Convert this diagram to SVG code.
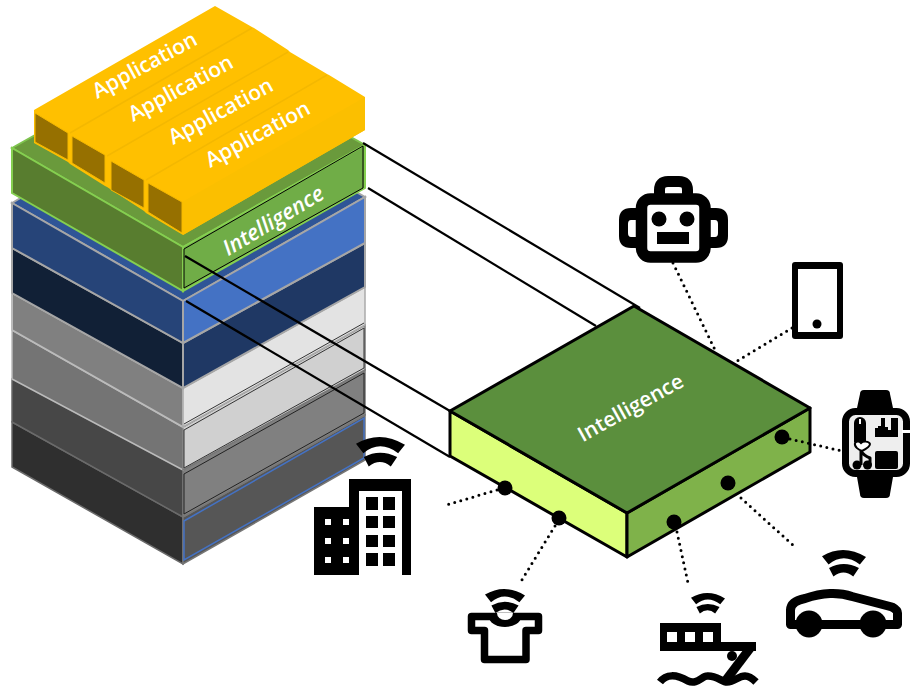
<svg xmlns="http://www.w3.org/2000/svg" xmlns:xlink="http://www.w3.org/1999/xlink" width="910" height="686" viewBox="0 0 910 686">
<style>
.app{font-family:"Open Sans","Liberation Sans",sans-serif;font-size:21.200px;font-weight:600;fill:#fff;text-anchor:middle}
.intel{font-family:"Open Sans","Liberation Sans",sans-serif;font-weight:600;fill:#fff;text-anchor:middle}
.line{fill:none;stroke:#000;stroke-width:2.200}
.dot{fill:none;stroke:#000;stroke-width:3;stroke-linecap:round;stroke-dasharray:0 6.300}
.k{fill:#000}.w{fill:#fff}
.y{fill:#ffc000}.ys{fill:#fbbf00}.yf{fill:#967000;stroke:#f5b800;stroke-width:1}
.seam{fill:none;stroke:#f4b800;stroke-width:1.500}
.ico{fill:none;stroke:#000;stroke-linejoin:round}
</style>
<defs>
<g id="wifi"><path d="M0,14Q49,-15 100,16L86,33Q49,5 15,33Z"/><path d="M16,41Q49,23 84,41L71,60Q49,42 26,60Z"/></g>
</defs>
<g id="stack-layers">
<g id="layer-6"><polygon points="12,422 183,517 183,564 12,467" fill="#2f2f2f" stroke="#6a6a6a" stroke-width="1.500"/><polygon points="183,517 365,415 365,460 183,564" fill="#565656" stroke="#777" stroke-width="1.500"/><polygon points="184,521 364,418 364,458 184,560" fill="none" stroke="#4472c4" stroke-width="1.500"/></g>
<g id="layer-5"><polygon points="12,379 183,470 183,517 12,422" fill="#474747" stroke="#6a6a6a" stroke-width="1.500"/><polygon points="183,470 365,370 365,415 183,517" fill="#808080" stroke="#777" stroke-width="1.500"/><polygon points="184,474 364,373 364,413 184,514" fill="none" stroke="#222" stroke-width="1"/></g>
<g id="layer-4"><polygon points="12,330 183,427 183,470 12,379" fill="#747474" stroke="#bbb" stroke-width="1.500"/><polygon points="183,427 365,325 365,370 183,470" fill="#d0d0d0" stroke="#777" stroke-width="1.500"/><polygon points="184,430 364,328 364,368 184,468" fill="none" stroke="#333" stroke-width="1"/></g>
<g id="layer-3"><polygon points="12,293 183,388 183,427 12,330" fill="#808080" stroke="#bbb" stroke-width="2"/><polygon points="183,388 365,287 365,325 183,427" fill="#e3e3e3" stroke="#aaa" stroke-width="1.500"/><path d="M184,424L364,323" fill="none" stroke="#333" stroke-width="1"/></g>
<g id="layer-2"><polygon points="12,248 183,343 183,388 12,293" fill="#112036" stroke="#a6a6a6" stroke-width="2"/><polygon points="183,343 365,243 365,287 183,388" fill="#1f3864" stroke="#a6a6a6" stroke-width="2"/></g>
<g id="layer-1"><polygon points="12,203 190,98 365,197 183,301" fill="#2f5597" stroke="#a6a6a6" stroke-width="2"/><polygon points="12,203 183,301 183,343 12,248" fill="#264478" stroke="#a6a6a6" stroke-width="2"/><polygon points="183,301 365,197 365,243 183,343" fill="#4472c4" stroke="#a6a6a6" stroke-width="2"/></g>
</g>
<g id="stack-intelligence">
<polygon points="12,148 190,48 365,145 183,247" fill="#6a9a3c" stroke="#7fc44f" stroke-width="2"/>
<polygon points="12,148 183,247 183,291 12,193" fill="#587d2f" stroke="#85cf50" stroke-width="2"/>
<polygon points="183,247 365,145 365,188 183,291" fill="#70ad47" stroke="#85cf50" stroke-width="2"/>
<polygon points="184,249 363,146 363,188 184,288" fill="none" stroke="#000" stroke-width="1"/>
<text class="intel" font-size="21.700" font-style="italic" transform="translate(277,227) rotate(-31)">Intelligence</text>
</g>
<g id="applications">
<polygon class="y" points="34,110 215,6 252,27 254,28 288,50 290,52 327,74 329,75 365,97 365,130 183,235 146,213 144,211 107,187 105,186 70,164 68,162 34,143"/>
<polygon class="ys" points="182,202 365,97 365,130 183,235"/>
<g id="app-1"><polygon class="yf" points="35,113 68,133 68,160 35,142"/></g>
<g id="app-2"><path class="seam" d="M70,133L252,28"/><polygon class="yf" points="72,136 105,155 105,183 72,163"/></g>
<g id="app-3"><path class="seam" d="M107,156L288,52"/><polygon class="yf" points="111,161 144,180 144,208 111,190"/></g>
<g id="app-4"><path class="seam" d="M146,180L327,75"/><polygon class="yf" points="148,183 182,202 182,233 148,212"/></g>
<text class="app" transform="translate(148,71.500) rotate(-28.500)">Application</text>
<text class="app" transform="translate(184,94.500) rotate(-28.500)">Application</text>
<text class="app" transform="translate(224,117.500) rotate(-28.500)">Application</text>
<text class="app" transform="translate(261,140.500) rotate(-28.500)">Application</text>
</g>
<g id="intelligence-box">
<polygon points="450,411 627,513 627,557 450,456" fill="#dcff7a" stroke="#000" stroke-width="3" stroke-linejoin="round"/>
<polygon points="627,513 810,408 810,452 627,557" fill="#7fb24a" stroke="#000" stroke-width="3" stroke-linejoin="round"/>
<polygon points="450,411 634,306 810,408 627,513" fill="#5b8f3d" stroke="#000" stroke-width="3" stroke-linejoin="round"/>
<text class="intel" font-size="21" transform="translate(634,414) rotate(-29)">Intelligence</text>
<circle class="k" cx="505" cy="488" r="7.500"/><circle class="k" cx="559" cy="518" r="7.500"/><circle class="k" cx="674" cy="522" r="7.500"/><circle class="k" cx="728" cy="483" r="7.500"/><circle class="k" cx="782" cy="437" r="7.500"/>
</g>
<g id="connectors">
<path class="line" d="M363,143L640,308"/>
<path class="line" d="M368,188L596,326"/>
<path class="line" d="M185,256L450,411"/>
<path class="line" d="M186,301L450,457"/>
<path class="dot" d="M497,490L443,506"/>
<path class="dot" d="M555,526L520,583"/>
<path class="dot" d="M677,532L688,583"/>
<path class="dot" d="M741,498L795,547"/>
<path class="dot" d="M790,439L842,451"/>
<path class="dot" d="M673,263L716,352"/>
<path class="dot" d="M792,328L737,361"/>
</g>
<g id="building">
<use xlink:href="#wifi" href="#wifi" transform="translate(356,437) scale(.49)"/>
<rect class="k" x="314" y="507" width="45" height="68"/>
<path class="k" d="M349,479H411V575H402V491H359V507H349Z"/>
<path class="k" d="M366,497h12v13h-12zM383,497h12v13h-12zM366,516h12v12h-12zM383,516h12v12h-12zM366,535h12v12h-12zM383,535h12v12h-12zM366,553h12v13h-12zM383,553h12v13h-12z"/>
<path class="w" d="M325,519h6v6h-6zM343,519h6v6h-6zM325,538h6v6h-6zM343,538h6v6h-6zM325,557h6v6h-6zM343,557h6v6h-6z"/>
</g>
<g id="shirt">
<use xlink:href="#wifi" href="#wifi" transform="translate(485,589) scale(.4)"/>
<path class="ico" stroke-width="7.500" stroke-linejoin="miter" d="M471.500,616.500H538.500V630.500H526V659.500H484.500V630.500H471.500Z"/>
<path class="k" d="M489,617A16,10 0 0 0 521,617Z"/>
<path class="w" d="M497,613A8,7 0 0 0 513,613Z"/>
</g>
<g id="ship">
<use xlink:href="#wifi" href="#wifi" transform="translate(691,593) scale(.34)"/>
<path class="k" d="M660,623H721V642H756V651H660Z"/>
<path class="w" d="M667,632h10v10h-10zM685,632h10v10h-10zM703,632h10v10h-10z"/>
<circle class="k" cx="732" cy="656" r="5"/>
<path class="ico" stroke-width="9" stroke-linejoin="miter" d="M751,647L726,680"/>
<path class="ico" stroke-width="7.500" d="M660,682C666,674 676,674 688,681C697,685 702,676 707,676C716,675 722,682 727,682C735,682 738,676 745,676C750,676 753,679 756,682"/>
</g>
<g id="car">
<use xlink:href="#wifi" href="#wifi" transform="translate(822,550) scale(.44)"/>
<path class="ico" stroke-width="9" d="M790.500,624.500V610Q791,601 805,598.500Q818,594 830,593.500Q842,593 852,596.500L892,607Q897.500,610 897.500,613V624.500Z"/>
<circle class="k" cx="809" cy="624" r="13.500"/><circle class="k" cx="873" cy="624" r="13.500"/>
</g>
<g id="watch">
<path class="k" d="M860,394Q860,390 864,390H886Q890,390 890,394L893,408H857ZM857,477H893L890,494Q890,498 886,498H864Q860,498 860,494Z"/>
<rect x="845.500" y="411.500" width="61" height="62" rx="10" fill="#eee" stroke="#000" stroke-width="7"/>
<rect class="w" x="902" y="430" width="8" height="3"/>
<rect class="k" x="875" y="451" width="23" height="18" rx="2"/>
<path class="k" d="M875,437V428h3V426h3v-8h4v9h3v3h3v-12h7v19z"/>
<path class="k" d="M854,423a6,6 0 0 1 12,0V442H854Z"/>
<rect class="w" x="859" y="419" width="2" height="5"/>
<path d="M855,443c3,-3 5,-1 6,0c2,-2 8,-2 9,1c0,3 -6,6 -8,7c-3,-1 -8,-4 -7,-8z" fill="#fff" stroke="#000" stroke-width="2"/>
<path class="ico" stroke-width="3" d="M861,451V465M861,451Q864,456 870,458V465"/>
<circle class="k" cx="857" cy="465" r="4.500"/><circle class="k" cx="867.500" cy="465" r="4.500"/>
</g>
<g id="robot">
<path class="ico" stroke-width="11" d="M659.500,194V190Q659.500,181.500 668,181.500H679Q687.500,181.500 687.500,190V194"/>
<path class="k" d="M636,208H631Q619,208 619,220V236Q619,248 631,248H636ZM710,208H716Q728,208 728,220V236Q728,248 716,248H710Z"/>
<path class="w" d="M636,220H631Q628,220 628,224V233Q628,237 631,237H636ZM710,220H715Q718,220 718,224V233Q718,237 715,237H710Z"/>
<rect class="ico" x="641.500" y="199" width="63.500" height="58" rx="9" stroke-width="11.500"/>
<circle class="k" cx="659" cy="219" r="7.500"/><circle class="k" cx="687" cy="219" r="7.500"/>
<rect class="k" x="657" y="232" width="32" height="12"/>
</g>
<g id="phone">
<rect class="k" x="792" y="262" width="51" height="77" rx="3"/>
<rect class="w" x="798" y="269" width="39" height="63"/>
<circle class="k" cx="817" cy="324" r="4.500"/>
</g>
</svg>
